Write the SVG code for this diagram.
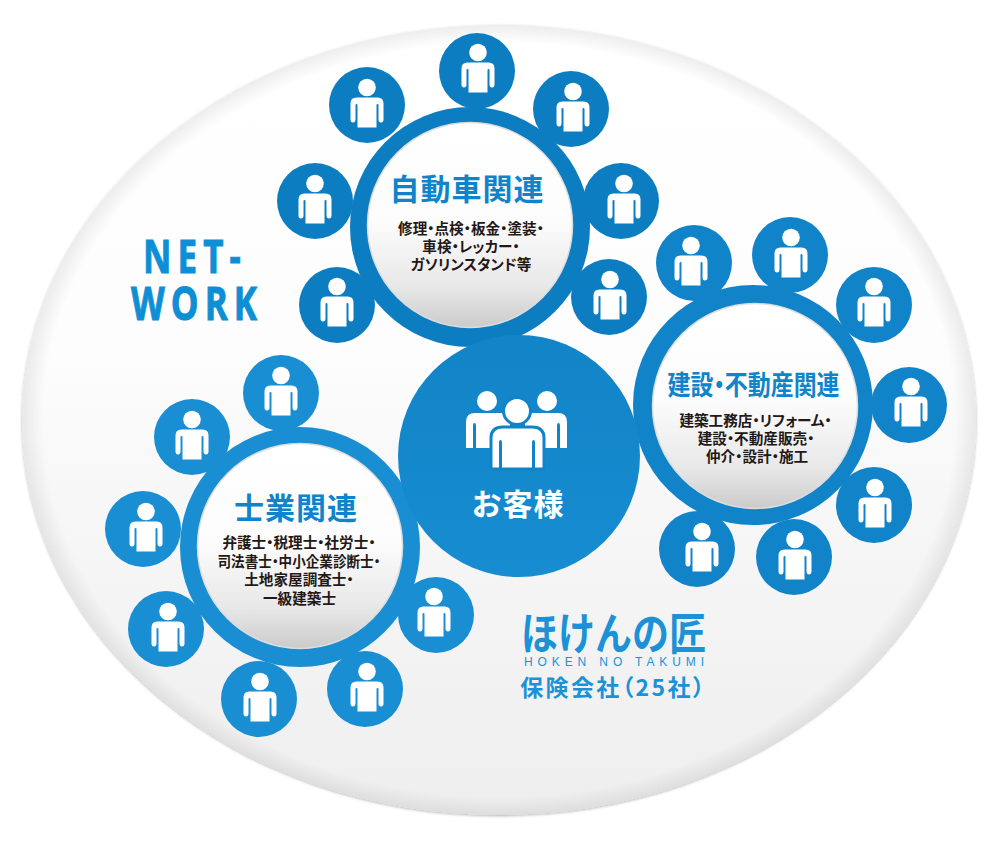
<svg xmlns="http://www.w3.org/2000/svg" width="1000" height="850" viewBox="0 0 1000 850">
<style>
text{font-family:"Noto Sans CJK JP","Noto Sans",sans-serif;font-weight:700;text-anchor:middle}
.h{fill:#0f84cb;font-size:30px;letter-spacing:1px}
.s{fill:#231815;font-size:14.6px;font-feature-settings:"palt"}
.n{font-family:"Open Sans",sans-serif;fill:#0e8fd5;stroke:#0e8fd5;stroke-width:1;font-size:46px;letter-spacing:8px}
.d{stroke:#dcdddd;stroke-width:1.5}
.p{fill:#fff}
</style>
<defs>
<linearGradient id="bg" x1="0" y1="0" x2="0" y2="1">
<stop offset="0" stop-color="#ffffff"/><stop offset="0.4" stop-color="#fdfdfd"/><stop offset="0.6" stop-color="#f7f7f8"/><stop offset="1" stop-color="#eeeeef"/>
</linearGradient>
<radialGradient id="rim" cx="0.5" cy="0.5" r="0.5">
<stop offset="0.955" stop-color="#000" stop-opacity="0"/><stop offset="1" stop-color="#000" stop-opacity="0.07"/>
</radialGradient>
<linearGradient id="blue" gradientUnits="userSpaceOnUse" x1="0" y1="30" x2="0" y2="740">
<stop offset="0" stop-color="#0b79bd"/><stop offset="1" stop-color="#1b92d6"/>
</linearGradient>
<linearGradient id="disc" x1="0" y1="0" x2="0" y2="1">
<stop offset="0" stop-color="#ffffff"/><stop offset="0.48" stop-color="#fcfcfc"/><stop offset="0.8" stop-color="#e8e8e9"/><stop offset="1" stop-color="#cbcbcc"/>
</linearGradient>
<filter id="sh" x="-3%" y="-3%" width="106%" height="106%"><feDropShadow dx="0" dy="1" stdDeviation="1.5" flood-color="#000" flood-opacity="0.3"/></filter>
<g id="person">
<circle cx="0" cy="-18.5" r="8.8" class="p"/>
<path class="p" d="M-10.5-8.5H10.5Q16.5-8.5 16.5-2.5V13.5Q16.5 16.5 14 16.5T11.5 13.5V-1Q11.5-2 10.5-2T9.5-1V21.5H-9.5V-1Q-9.5-2-10.5-2T-11.5-1V13.5Q-11.5 16.5-14 16.5T-16.5 13.5V-2.5Q-16.5-8.5-10.5-8.5Z"/>
</g>
</defs>
<rect width="1000" height="850" fill="#fff"/>
<g id="background">
<ellipse cx="499" cy="420" rx="477" ry="395" fill="url(#bg)" filter="url(#sh)"/>
<ellipse cx="499" cy="420" rx="477" ry="395" fill="url(#rim)"/>
</g>
<g id="net-label">
<text class="n" transform="translate(195 273) scale(.76 1)">NET-</text>
<text class="n" transform="translate(197 320) scale(.76 1)">WORK</text>
</g>
<g id="connectors"></g>
<g id="node-car">
<circle cx="470" cy="227" r="120" fill="#0d7dc2"/>
<g fill="#0d7dc2">
<circle cx="367" cy="105" r="38"/><circle cx="477" cy="71" r="38"/><circle cx="571" cy="109" r="38"/><circle cx="621" cy="201" r="38"/><circle cx="609" cy="297" r="38"/><circle cx="337" cy="305" r="38"/><circle cx="315" cy="201" r="38"/>
</g>
<use href="#person" x="367" y="106"/><use href="#person" x="478" y="71"/><use href="#person" x="573" y="110"/><use href="#person" x="624" y="202"/><use href="#person" x="610" y="298"/><use href="#person" x="337" y="305"/><use href="#person" x="315" y="202"/>
<circle class="d" cx="470" cy="225" r="102.5" fill="url(#disc)"/>
<text class="h" x="467" y="200">自動車関連</text>
<text class="s" x="471" y="234">修理・点検・板金・塗装・</text>
<text class="s" x="471" y="252">車検・レッカー・</text>
<text class="s" x="471" y="270">ガソリンスタンド等</text>
</g>
<g id="node-construction">
<circle cx="753" cy="405" r="120" fill="#1183c9"/>
<g fill="#1183c9">
<circle cx="694" cy="263" r="38"/><circle cx="790" cy="255" r="38"/><circle cx="874" cy="305" r="38"/><circle cx="909" cy="405" r="38"/><circle cx="874" cy="505" r="38"/><circle cx="794" cy="557" r="38"/><circle cx="697" cy="549" r="38"/>
</g>
<use href="#person" x="691" y="264"/><use href="#person" x="791" y="256"/><use href="#person" x="874" y="305"/><use href="#person" x="911" y="405"/><use href="#person" x="875" y="506"/><use href="#person" x="795" y="558"/><use href="#person" x="702" y="550"/>
<circle class="d" cx="755" cy="406" r="102.5" fill="url(#disc)"/>
<text class="h" x="753.500" y="395" style="font-size:27px;letter-spacing:0;font-feature-settings:'palt'" textLength="172" lengthAdjust="spacingAndGlyphs">建設・不動産関連</text>
<text class="s" x="755.500" y="426">建築工務店・リフォーム・</text>
<text class="s" x="756" y="444">建設・不動産販売・</text>
<text class="s" x="757" y="462">仲介・設計・施工</text>
</g>
<g id="node-professional">
<circle cx="300" cy="547" r="120" fill="#1a8ed2"/>
<g fill="#1a8ed2">
<circle cx="281" cy="393" r="38"/><circle cx="192" cy="437" r="38"/><circle cx="143" cy="529" r="38"/><circle cx="166" cy="629" r="38"/><circle cx="259" cy="699" r="38"/><circle cx="365" cy="689" r="38"/><circle cx="436" cy="615" r="38"/>
</g>
<use href="#person" x="281" y="394"/><use href="#person" x="192" y="438"/><use href="#person" x="146" y="530"/><use href="#person" x="168" y="630"/><use href="#person" x="260" y="700"/><use href="#person" x="367" y="690"/><use href="#person" x="434" y="615"/>
<circle class="d" cx="300" cy="546" r="102.5" fill="url(#disc)"/>
<text class="h" x="296" y="519">士業関連</text>
<text class="s" x="299" y="548">弁護士・税理士・社労士・</text>
<text class="s" x="299" y="567" textLength="163" lengthAdjust="spacingAndGlyphs">司法書士・中小企業診断士・</text>
<text class="s" x="299" y="585">土地家屋調査士・</text>
<text class="s" x="299.500" y="604">一級建築士</text>
</g>
<g id="node-customer">
<circle cx="519" cy="456" r="121" fill="url(#blue)"/>
<circle cx="487" cy="401" r="10" class="p"/><circle cx="547" cy="401" r="10" class="p"/>
<path class="p" d="M466 448V422Q466 413 475 413H510V448Z"/>
<path class="p" d="M567 448V422Q567 413 558 413H525V448Z"/>
<path fill="#1183c9" d="M473 448V426Q473 423 474.500 423T476 426V448ZM557 448V426Q557 423 558.500 423T560 426V448Z"/>
<circle cx="517" cy="411" r="13.500" fill="#fff" stroke="#1183c9" stroke-width="3"/>
<path fill="#fff" stroke="#1183c9" stroke-width="3" d="M491 469V438Q491 427 503 427H532Q544 427 544 438V469Z"/>
<path fill="#1183c9" d="M499 469V443Q499 440 500.500 440T502 443V469ZM532 469V443Q532 440 533.500 440T535 443V469Z"/>
<text x="518" y="515" fill="#fff" style="font-size:30px;letter-spacing:1px">お客様</text>
</g>
<g id="node-insurer" fill="#1b92d6">
<text transform="translate(613.500 650) scale(1 1.2)" style="font-size:37px">ほけんの匠</text>
<text x="614" y="666" style="font-family:'Liberation Sans',sans-serif;font-weight:400;font-size:12px" textLength="180">HOKEN NO TAKUMI</text>
<text x="613.500" y="696" style="font-size:23px;letter-spacing:2.400px;font-feature-settings:'palt'">保険会社（25社）</text>
</g>
</svg>
